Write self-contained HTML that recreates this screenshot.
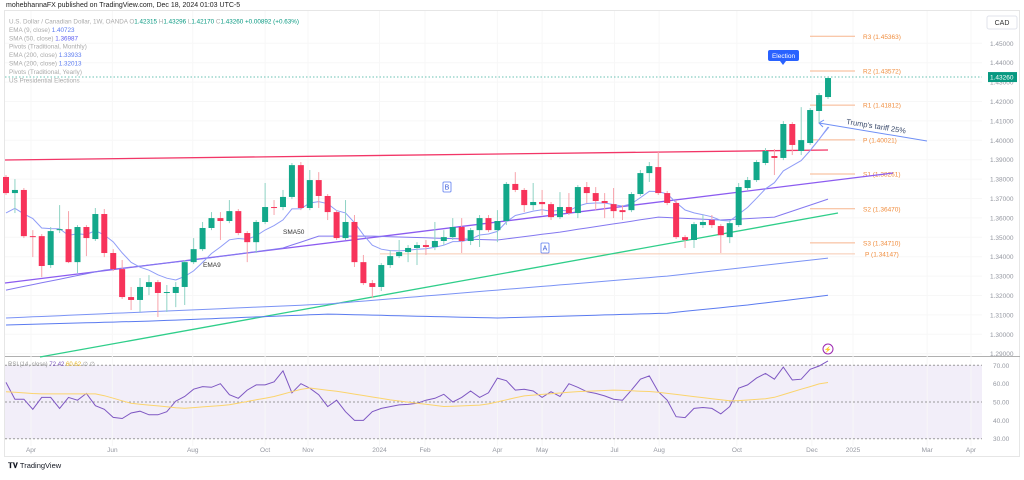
<!DOCTYPE html>
<html><head><meta charset="utf-8">
<style>
html,body{margin:0;padding:0;background:#fff;}
body{width:1024px;height:475px;overflow:hidden;font-family:"Liberation Sans",sans-serif;}
svg text{font-family:"Liberation Sans",sans-serif;}
</style></head>
<body>
<svg id="chart" width="1024" height="475" viewBox="0 0 1024 475" xmlns="http://www.w3.org/2000/svg">
  <text x="6" y="7" font-size="7" fill="#222">mohebhannaFX published on TradingView.com, Dec 18, 2024 01:03 UTC-5</text>
  <rect x="4.5" y="10.5" width="1015" height="446" fill="none" stroke="#e6e6e6"/>
  <line x1="5" y1="356.5" x2="1020" y2="356.5" stroke="#b0b0b0" stroke-width="1"/>
  <rect x="5" y="365" width="977" height="74" fill="#7e57c2" fill-opacity="0.1"/>
  <g id="grid"></g>
  <g id="pivots"></g>
  <g id="drawings"></g>
  <g id="mas"></g>
  <g id="candles"></g>
  <g id="rsi"></g>
  <g id="axes"></g>
  <g id="legend"></g>
  <text x="8" y="468" font-size="7.5" fill="#131722" font-weight="bold">𝐓𝐕 <tspan font-weight="normal">TradingView</tspan></text>
</svg>
<script>
// ---------- DATA ----------
const opens  = [1.3811,1.3728,1.3744,1.3506,1.3506,1.3357,1.3537,1.3542,1.3372,1.3553,1.3491,1.3620,1.3419,1.3336,1.3192,1.3177,1.3244,1.3269,1.3213,1.3213,1.3244,1.3372,1.3439,1.3548,1.3599,1.3584,1.3635,1.3522,1.3475,1.3579,1.3656,1.3656,1.3708,1.3872,1.3651,1.3795,1.3713,1.3630,1.3496,1.3579,1.3372,1.3264,1.3244,1.3357,1.3403,1.3424,1.3445,1.3460,1.3450,1.3481,1.3501,1.3553,1.3481,1.3537,1.3599,1.3537,1.3584,1.3775,1.3744,1.3666,1.3682,1.3671,1.3604,1.3656,1.3625,1.3759,1.3728,1.3687,1.3671,1.3640,1.3640,1.3723,1.3831,1.3862,1.3728,1.3677,1.3501,1.3486,1.3563,1.3589,1.3558,1.3501,1.3563,1.3754,1.3795,1.3883,1.3919,1.3909,1.4084,1.3945,1.3986,1.4151,1.4223];
const highs  = [1.3821,1.3800,1.3754,1.3537,1.3517,1.3553,1.3666,1.3635,1.3563,1.3563,1.3651,1.3646,1.3439,1.3383,1.3244,1.3290,1.3305,1.3280,1.3254,1.3269,1.3383,1.3496,1.3579,1.3630,1.3630,1.3692,1.3646,1.3532,1.3589,1.3780,1.3692,1.3744,1.3883,1.3888,1.3847,1.3836,1.3723,1.3640,1.3692,1.3615,1.3409,1.3280,1.3367,1.3434,1.3486,1.3460,1.3475,1.3486,1.3579,1.3537,1.3599,1.3599,1.3548,1.3615,1.3615,1.3640,1.3785,1.3836,1.3754,1.3780,1.3744,1.3682,1.3733,1.3728,1.3769,1.3785,1.3759,1.3728,1.3754,1.3666,1.3733,1.3847,1.3888,1.3940,1.3739,1.3692,1.3511,1.3579,1.3615,1.3615,1.3568,1.3589,1.3780,1.3811,1.3898,1.3960,1.3955,1.4099,1.4094,1.4171,1.4166,1.4244,1.4326];
const lows   = [1.3718,1.3625,1.3496,1.3398,1.3295,1.3342,1.3522,1.3367,1.3316,1.3403,1.3481,1.3398,1.3326,1.3182,1.3125,1.3115,1.3202,1.3089,1.3115,1.3140,1.3151,1.3362,1.3429,1.3537,1.3486,1.3573,1.3511,1.3372,1.3419,1.3568,1.3615,1.3640,1.3697,1.3640,1.3640,1.3651,1.3589,1.3486,1.3486,1.3347,1.3254,1.3187,1.3223,1.3342,1.3393,1.3372,1.3357,1.3409,1.3434,1.3460,1.3486,1.3419,1.3460,1.3450,1.3527,1.3475,1.3563,1.3733,1.3630,1.3640,1.3615,1.3589,1.3594,1.3615,1.3599,1.3677,1.3640,1.3599,1.3599,1.3589,1.3630,1.3713,1.3785,1.3718,1.3666,1.3491,1.3445,1.3445,1.3548,1.3548,1.3419,1.3470,1.3553,1.3744,1.3785,1.3872,1.3821,1.3898,1.3924,1.3924,1.3976,1.4089,1.4213];
const closes = [1.3728,1.3744,1.3506,1.3501,1.3352,1.3532,1.3542,1.3372,1.3553,1.3496,1.3620,1.3419,1.3336,1.3192,1.3177,1.3244,1.3269,1.3213,1.3218,1.3244,1.3372,1.3439,1.3548,1.3599,1.3584,1.3635,1.3522,1.3475,1.3579,1.3656,1.3651,1.3708,1.3872,1.3651,1.3795,1.3713,1.3630,1.3496,1.3579,1.3372,1.3264,1.3244,1.3357,1.3403,1.3424,1.3445,1.3460,1.3450,1.3481,1.3501,1.3553,1.3481,1.3537,1.3599,1.3537,1.3584,1.3775,1.3744,1.3666,1.3682,1.3671,1.3604,1.3656,1.3625,1.3759,1.3728,1.3687,1.3677,1.3635,1.3630,1.3723,1.3831,1.3867,1.3728,1.3677,1.3501,1.3486,1.3568,1.3579,1.3563,1.3511,1.3573,1.3759,1.3795,1.3888,1.3945,1.3909,1.4084,1.3976,1.4001,1.4156,1.4233,1.4321];
const ema9Seed = 1.3600;
const sma50Idx = [0,11,21,31,35,41,55,62,73,80,86,92];
const sma50Val = [1.3228,1.3331,1.3383,1.3445,1.3506,1.3506,1.3486,1.3527,1.3604,1.3589,1.3604,1.3697];
const ema200Idx = [0,36,55,74,92];
const ema200Val = [1.3084,1.3156,1.3228,1.3300,1.3393];
const sma200Idx = [0,16,36,55,74,83,92];
const sma200Val = [1.3048,1.3068,1.3104,1.3084,1.3109,1.3151,1.3201];
const rsiVals = [60.7,51.5,51.5,46,52.5,52.5,46.5,52.5,51,54.7,48,46,41.6,41,44,45,43,43,44.7,50.5,53,57,58.4,58,60,54,52,56.5,59.3,59.3,61,67,55,60,57.5,54,47.5,51,44.7,40,40,44.7,46.5,47.5,48.4,48.7,49.3,51,52,54.2,50,52.5,56,52.5,55,63,61.6,56.5,57,56,52.5,55.6,53,60,58,55.6,54.7,53.3,51.5,51,56.5,62.4,64.2,55.6,51,42,41.5,46.5,47,46.5,43.5,47.5,57.5,59.3,63,65.6,62.4,69,62,62.4,67.8,69.6,72.4];
const rsiMaIdx = [0,3.7,10.3,14,19.8,24.9,30,33.7,37.4,43.2,49.1,53.5,57.9,63.7,68.1,72.5,76.9,81.3,85.6,91.5,92];
const rsiMaVal = [55.6,54.4,54.4,49.3,46.5,48.4,53,57.8,55.6,51,47.5,48.4,53.3,55.6,56.5,55.6,53,50.5,52,60.6,60.6];
const priceTicks = [1.45,1.44,1.43,1.42,1.41,1.40,1.39,1.38,1.37,1.36,1.35,1.34,1.33,1.32,1.31,1.30,1.29];
const rsiTicks = [70,60,50,40,30];
const dateLabels = ["Apr","Jun","Aug","Oct","Nov","2024","Feb","Apr","May","Jul","Aug","Oct","Dec","2025","Mar","Apr"];
const dateWeeks  = [2.8,11.9,20.9,29,33.8,41.8,46.9,55,60,68.1,73.1,81.8,90.2,94.8,103.1,108];
const pivotNames = ["R3","R2","R1","P","S1","S2","S3"];
const pivotVals  = [1.45363,1.43572,1.41812,1.40021,1.38261,1.36470,1.34710];
const yearPivot = 1.34147;
const lastClose = 1.43260;

// ---------- SCALES ----------
const X0 = 6, DX = 8.935;
const xOf = i => X0 + DX*i;
const yOf = p => 43.3 + (1.45 - p)*1940;
const yR = v => 365.3 + (70 - v)*1.835;
const NS = "http://www.w3.org/2000/svg";
function mk(tag, attrs, parent){const e=document.createElementNS(NS,tag);for(const k in attrs)e.setAttribute(k,attrs[k]);parent.appendChild(e);return e;}
const G = id => document.getElementById(id);

// grid
priceTicks.forEach(p=>{
  const l=mk('line',{x1:5,x2:982,y1:yOf(p),y2:yOf(p),stroke:'#f7f7f7'},G('grid'));
  
  
});
dateWeeks.forEach(w=>{
  const l=mk('line',{x1:xOf(w),x2:xOf(w),y1:11,y2:446,stroke:'#f7f7f7'},G('grid'));
  
  
});

// pivots
pivotNames.forEach((n,k)=>{
  const y=yOf(pivotVals[k]);
  const l=mk('line',{x1:810,x2:855,y1:y,y2:y,stroke:'#f7b58e','stroke-width':1},G('pivots'));
  
  
  const t=mk('text',{x:863,y:y+2.5,'font-size':6.5,fill:'#f08c3c'},G('pivots'));
  t.textContent=n+' ('+pivotVals[k].toFixed(5)+')';
  
  
});
{
  const y=yOf(yearPivot);
  const l=mk('line',{x1:380,x2:855,y1:y,y2:y,stroke:'#f7c9b0','stroke-width':1},G('pivots'));
  
  
  const t=mk('text',{x:865,y:y+2.5,'font-size':6.5,fill:'#f08c3c'},G('pivots'));
  t.textContent='P ('+yearPivot.toFixed(5)+')';
  
  
  const yl=yOf(lastClose);
  const d=mk('line',{x1:5,x2:982,y1:yl,y2:yl,stroke:'#089981','stroke-dasharray':'1.5 2','stroke-opacity':0.6},G('pivots'));
  
  
}

// drawings (trend lines)
const dr=G('drawings');
let e;
e=mk('line',{x1:5,y1:160,x2:828,y2:150,stroke:'#f23667','stroke-width':1.3},dr);


e=mk('line',{x1:5,y1:283,x2:893,y2:173,stroke:'#8c5cf0','stroke-width':1.3},dr);


e=mk('line',{x1:40,y1:357,x2:838,y2:213,stroke:'#2fce8a','stroke-width':1.3},dr);


e=mk('line',{x1:927,y1:141,x2:819,y2:123,stroke:'#6f8ff5','stroke-width':1},dr);


e=mk('polyline',{points:'824,120 819,123 823,127',fill:'none',stroke:'#6f8ff5','stroke-width':1},dr);


e=mk('line',{x1:829,y1:127,x2:812,y2:148,stroke:'#6f8ff5','stroke-width':0.8},dr);


e=mk('text',{x:846,y:124,'font-size':7.5,fill:'#3a4a6b',transform:'rotate(9 846 124)'},dr);
e.textContent="Trump's tariff 25%";


[['B',447,187],['A',545,248]].forEach(([s,x,y])=>{
  const r=mk('rect',{x:x-4,y:y-5,width:8,height:10,fill:'#fff',stroke:'#5b7bf0','stroke-width':0.8,rx:1},dr);
  
  
  const t=mk('text',{x:x,y:y+2.5,'font-size':7,fill:'#3a5bd9','text-anchor':'middle'},dr);
  t.textContent=s;
  
  
});
e=mk('text',{x:283,y:234,'font-size':6.5,fill:'#333'},dr); e.textContent='SMA50';


e=mk('text',{x:203,y:267,'font-size':6.5,fill:'#333'},dr); e.textContent='EMA9';


// election marker
e=mk('rect',{x:768,y:50,width:31,height:11,rx:2,fill:'#2962ff'},dr);


e=mk('polygon',{points:'780,61 786,61 783,65',fill:'#2962ff'},dr);


e=mk('text',{x:783.5,y:58,'font-size':6.5,fill:'#fff','text-anchor':'middle'},dr); e.textContent='Election';


e=mk('circle',{cx:828,cy:349,r:5,fill:'#fff',stroke:'#9c27b0','stroke-width':1},dr);


e=mk('text',{x:828,y:351.5,'font-size':6,fill:'#9c27b0','text-anchor':'middle'},dr); e.textContent='⚡';



// moving averages
function interp(idx,val,i){for(let k=0;k<idx.length-1;k++){if(i>=idx[k]&&i<=idx[k+1]){const t=(i-idx[k])/(idx[k+1]-idx[k]);return val[k]+t*(val[k+1]-val[k]);}}return val[val.length-1];}
function pathFrom(fn,n){let d='';for(let i=0;i<n;i++){d+=(i?'L':'M')+xOf(i).toFixed(1)+','+yOf(fn(i)).toFixed(1);}return d;}
const N=closes.length;
const ema=[];let prev=ema9Seed;const a=2/10;
closes.forEach(c=>{prev=prev+a*(c-prev);ema.push(prev);});
e=mk('path',{d:pathFrom(i=>interp(sma200Idx,sma200Val,i),N),fill:'none',stroke:'#5b7bf0','stroke-width':1},G('mas'));


e=mk('path',{d:pathFrom(i=>interp(ema200Idx,ema200Val,i),N),fill:'none',stroke:'#7b93f5','stroke-width':1},G('mas'));


e=mk('path',{d:pathFrom(i=>interp(sma50Idx,sma50Val,i),N),fill:'none',stroke:'#8478f0','stroke-width':1},G('mas'));


e=mk('path',{d:pathFrom(i=>ema[i],N),fill:'none',stroke:'#8f9cf7','stroke-width':1},G('mas'));



// candles
for(let i=0;i<N;i++){
  const up=closes[i]>=opens[i];
  const col=up?'#13a88a':'#f7335a';
  const wcol=up?'#8fd3c4':'#f7a3ab';
  const x=xOf(i);
  const w=mk('line',{x1:x,x2:x,y1:yOf(highs[i]),y2:yOf(lows[i]),stroke:wcol,'stroke-width':1},G('candles'));
  
  
  const top=yOf(Math.max(opens[i],closes[i])),bot=yOf(Math.min(opens[i],closes[i]));
  const b=mk('rect',{x:x-3,y:top,width:6,height:Math.max(1,bot-top),fill:col},G('candles'));
  
  
}

// RSI
[70,50,30].forEach(v=>{
  const l=mk('line',{x1:5,x2:982,y1:yR(v),y2:yR(v),stroke:'#9a9a9a','stroke-dasharray':'2 2'},G('rsi'));
  
  
});
let rd='';rsiVals.forEach((v,i)=>{const xi=i*(N-1)/(rsiVals.length-1);rd+=(i?'L':'M')+xOf(xi).toFixed(1)+','+yR(v).toFixed(1);});
e=mk('path',{d:rd,fill:'none',stroke:'#7e57c2','stroke-width':1},G('rsi'));


let md='';for(let i=0;i<N;i++){md+=(i?'L':'M')+xOf(i).toFixed(1)+','+yR(interp(rsiMaIdx,rsiMaVal,i)).toFixed(1);}
e=mk('path',{d:md,fill:'none',stroke:'#fbd46d','stroke-width':1},G('rsi'));


e=mk('text',{x:8,y:366,'font-size':6},G('rsi'));
e.innerHTML='<tspan fill="#999">RSI (14, close) </tspan><tspan fill="#7e57c2">72.42</tspan> <tspan fill="#e6b422">60.62</tspan><tspan fill="#999"> ∅ ∅</tspan>';



// axes
priceTicks.forEach(p=>{
  const t=mk('text',{x:990,y:yOf(p)+2.5,'font-size':6.5,fill:'#9598a1'},G('axes'));
  t.textContent=p.toFixed(5);
  
  
});
rsiTicks.forEach(v=>{
  const t=mk('text',{x:993,y:yR(v)+2.5,'font-size':6.5,fill:'#9598a1'},G('axes'));
  t.textContent=v.toFixed(2);
  
  
});
dateLabels.forEach((s,k)=>{
  const t=mk('text',{x:xOf(dateWeeks[k]),y:452,'font-size':6.5,fill:'#9598a1','text-anchor':'middle'},G('axes'));
  t.textContent=s;
  
  
});
e=mk('rect',{x:987,y:16,width:30,height:13,rx:2,fill:'#fff',stroke:'#e0e3eb'},G('axes'));


e=mk('text',{x:1002,y:25,'font-size':7,fill:'#333','text-anchor':'middle'},G('axes')); e.textContent='CAD';


{const y=yOf(lastClose);
e=mk('rect',{x:988,y:y-5,width:29,height:10,fill:'#089981'},G('axes'));


e=mk('text',{x:990,y:y+2.5,'font-size':6.5,fill:'#fff'},G('axes')); e.textContent=lastClose.toFixed(5);

}

// legend
const lg=[
 ['<tspan fill="#aaa">U.S. Dollar / Canadian Dollar, 1W, OANDA  O</tspan><tspan fill="#089981">1.42315</tspan><tspan fill="#aaa"> H</tspan><tspan fill="#089981">1.43296</tspan><tspan fill="#aaa"> L</tspan><tspan fill="#089981">1.42170</tspan><tspan fill="#aaa"> C</tspan><tspan fill="#089981">1.43260  +0.00892 (+0.63%)</tspan>','legend-symbol'],
 ['<tspan fill="#aaa">EMA (9, close) </tspan><tspan fill="#5b7bf0">1.40723</tspan>','legend-ema9'],
 ['<tspan fill="#aaa">SMA (50, close) </tspan><tspan fill="#5b5bf0">1.36987</tspan>','legend-sma50'],
 ['<tspan fill="#aaa">Pivots (Traditional, Monthly)</tspan>','legend-pivots-monthly'],
 ['<tspan fill="#aaa">EMA (200, close) </tspan><tspan fill="#5b7bf0">1.33933</tspan>','legend-ema200'],
 ['<tspan fill="#aaa">SMA (200, close) </tspan><tspan fill="#5b7bf0">1.32013</tspan>','legend-sma200'],
 ['<tspan fill="#aaa">Pivots (Traditional, Yearly)</tspan>','legend-pivots-yearly'],
 ['<tspan fill="#aaa">US Presidential Elections</tspan>','legend-elections']
];
lg.forEach(([h,n],k)=>{
  const t=mk('text',{x:9,y:23.5+k*8.4,'font-size':6.3},G('legend'));
  t.innerHTML=h;
  
  
});
</script>
</body></html>
